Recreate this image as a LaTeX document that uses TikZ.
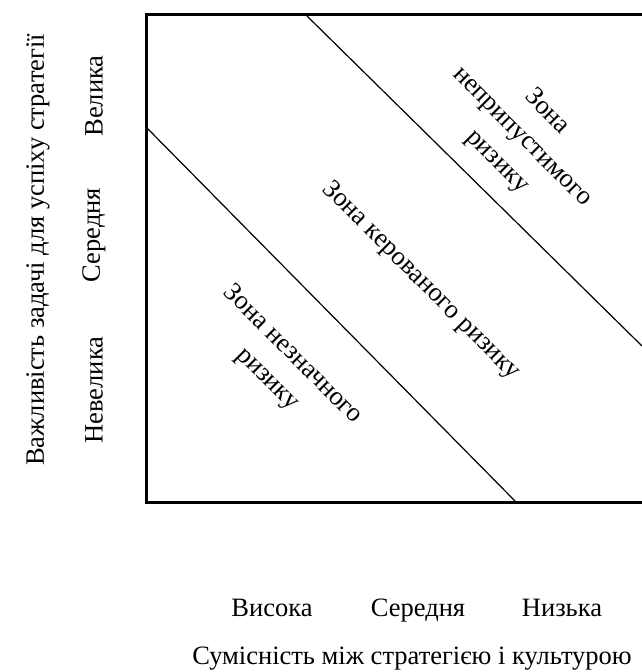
\documentclass[tikz,border=0pt]{standalone}
\usepackage{fontspec}
\setmainfont{Liberation Serif}
\usetikzlibrary{positioning}

\begin{document}
\begin{tikzpicture}[
    x=1pt,
    y=-1pt,
    every node/.style={
        font=\fontsize{26.5}{35}\selectfont
    },
    frame/.style={
        line width=3pt
    },
    border/.style={
        line width=1.2pt
    },
    zone/.style={
        align=center,
        rotate=-45,
        inner sep=0pt
    },
    level/.style={
        rotate=90,
        inner sep=0pt
    },
    tick/.style={
        anchor=base,
        inner sep=0pt
    }
]
\useasboundingbox (0,0) rectangle (642,672);

\draw[frame] (642,14) -- (146,14) -- (146,502) -- (642,502);

\coordinate (top1) at (307,16);
\coordinate (end1) at (642,346);
\coordinate (top2) at (147,128);
\coordinate (end2) at (515,501);

\draw[border] (top1) -- (end1);
\draw[border] (top2) -- (end2);

\node[zone] (low) at (280,367) {Зона незначного\\ризику};
\node[zone] (mid) at (421,281) {Зона керованого ризику};
\node[zone] (high) at (522,137) {Зона\\неприпустимого\\ризику};

\node[level] (imp) at (38,250) {Важливість задачі для успіху стратегії};
\node[level] (big) at (94,96) {Велика};
\node[level] (medium) at (94,235) {Середня};
\node[level] (small) at (94,390) {Невелика};

\node[tick] (high fit) at (272,616) {Висока};
\node[tick] (medium fit) at (418,616) {Середня};
\node[tick] (low fit) at (562,616) {Низька};

\node[tick] (fit) at (412,664) {Сумісність між стратегією і культурою};

\end{tikzpicture}
\end{document}
